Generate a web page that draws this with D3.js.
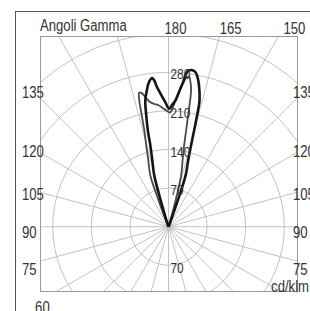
<!DOCTYPE html>
<html>
<head>
<meta charset="utf-8">
<script src="https://cdn.jsdelivr.net/npm/d3@7"></script>
<style>
  body { margin: 0; background: #fff; }
  text { font-family: "Liberation Sans", Arial, sans-serif; fill: #333; }
</style>
</head>
<body>
<div id="chart"></div>
<script>
// polar curve data: angle in degrees measured from the 180 axis (negative = left side), value in cd/klm
const blackAngles = [-21, -19, -17.5, -16.5, -15.5, -13.7, -12.6, -12.1, -11.3, -10.4, -8.8, -8, -7, -6.3, -5.5, -4.9, -3.35, -1.6, 0.3, 1.5, 3.2, 4.6, 5.8, 6.8, 8, 9.8, 11, 12.2, 13.8, 14.4, 14.9, 15.5, 16.5, 18.4, 19.5, 20.5, 22, 24]
const blackValues = [0, 5, 20, 55, 97, 124, 151, 179, 206, 233, 253, 262, 269, 271, 266, 256, 241, 227, 214, 220, 230, 247, 264, 282, 287, 285, 276, 262, 236, 209, 181, 153, 126, 99, 50, 15, 3, 0]

const grayAngles = [-26, -23, -21.5, -20.5, -19.5, -16.9, -15.3, -14.1, -13.4, -13, -12.3, -11.3, -10.2, -8.3, -6.5, -4.7, -3, -1.1, 0.85, 2.2, 3.6, 4.7, 5.8, 6.8, 7.8, 8.6, 9.4, 10, 10.9, 12, 13.8, 15, 16, 17.5, 20]
const grayValues = [0, 4, 25, 60, 99, 126, 153, 180, 215, 236, 249, 247, 239, 228, 224, 221, 216, 211, 207, 218, 233, 248, 262, 272, 275, 266, 251, 205, 150, 123, 96, 55, 25, 5, 0]

const ringValues = [70, 140, 210, 280, 350, 420]
const ringLabelsUp = [70, 140, 210, 280]
const ringLabelsDown = [70]
const gammaLeft = [135, 120, 105, 90, 75]
const gammaRight = [135, 120, 105, 90, 75]
const gammaTop = [180, 165, 150]
const gammaBottomLeft = [60]
const titleText = "Angoli Gamma"
const unitText = "cd/klm"

const W = 310, H = 311
const plot = { left: 40, right: 298, top: 36, bottom: 292 }
const cx = 168.5, cy = 226.7
const squeeze = 0.82 // narrow font look

const svg = d3.select("#chart").append("svg")
    .attr("width", W)
    .attr("height", H)

const r = d3.scaleLinear().domain([0, 70]).range([0, 38.6])
const rad = d => d * Math.PI / 180

function label(x, y, txt, anchor, size) {
    svg.append("text")
        .attr("transform", "translate(" + x + "," + y + ") scale(" + squeeze + ",1)")
        .attr("text-anchor", anchor)
        .style("font-size", size + "px")
        .text(txt)
}

// outer frame
svg.append("rect")
    .attr("x", 15.5).attr("y", 11.5)
    .attr("width", 400).attr("height", 400)
    .attr("fill", "none")
    .attr("stroke", "#555")

svg.append("clipPath").attr("id", "clip")
    .append("rect")
    .attr("x", plot.left).attr("y", plot.top)
    .attr("width", plot.right - plot.left)
    .attr("height", plot.bottom - plot.top)

const grid = svg.append("g").attr("clip-path", "url(#clip)")
const center = grid.append("g").attr("transform", "translate(" + cx + "," + cy + ")")

center.selectAll("circle")
    .data(ringValues)
    .enter()
    .append("circle")
    .attr("r", d => r(d))
    .attr("fill", "none")
    .attr("stroke", "#bbb")
    .attr("stroke-width", 0.9)

center.selectAll("line")
    .data(d3.range(0, 360, 15))
    .enter()
    .append("line")
    .attr("x1", 0).attr("y1", 0)
    .attr("x2", d => 400 * Math.sin(rad(d)))
    .attr("y2", d => -400 * Math.cos(rad(d)))
    .attr("stroke", "#bbb")
    .attr("stroke-width", 0.9)

// inner plot border
svg.append("rect")
    .attr("x", plot.left + 0.5).attr("y", plot.top + 0.5)
    .attr("width", plot.right - plot.left - 1)
    .attr("height", plot.bottom - plot.top - 1)
    .attr("fill", "none")
    .attr("stroke", "#999")

// curves
const radial = d3.lineRadial()
    .angle(d => rad(d[0]))
    .radius(d => r(d[1]))
    .curve(d3.curveCatmullRom)

const curves = [
    { pts: d3.zip(grayAngles, grayValues), color: "#4a4a4a", w: 1.8 },
    { pts: d3.zip(blackAngles, blackValues), color: "#151515", w: 2.6 }
]

svg.append("g")
    .attr("transform", "translate(" + cx + "," + cy + ")")
    .selectAll("path")
    .data(curves)
    .enter()
    .append("path")
    .attr("d", d => radial(d.pts))
    .attr("fill", "none")
    .attr("stroke", d => d.color)
    .attr("stroke-width", d => d.w)
    .attr("stroke-linejoin", "round")

// ring labels
ringLabelsUp.forEach(v => label(cx + 2, cy - r(v) + 7, v, "start", 14.5))
ringLabelsDown.forEach(v => label(cx + 2, cy + r(v) + 7.5, v, "start", 14.5))

// gamma labels on the sides
const sideY = g => {
    const lineY = cy + (cx - plot.left) / Math.tan(rad(g))
    return cy + (lineY - cy) * 1.09 + 5.6 + 5.6
}
gammaLeft.forEach(g => label(22, sideY(g), g, "start", 16))
gammaRight.forEach(g => label(293, sideY(g), g, "start", 16))

gammaTop.forEach(g => {
    const rayX = cx + (cy - plot.top) * Math.tan(rad(180 - g))
    label(cx + (rayX - cx) * 1.08 + 7, 34.3, g, "middle", 16)
})

gammaBottomLeft.forEach(g => {
    const rayX = cx - (plot.bottom - cy) * Math.tan(rad(g))
    label(rayX - 13, plot.bottom + 21, g, "middle", 16)
})

label(plot.left, 30.7, titleText, "start", 16)
label(309, 291.5, unitText, "end", 16)
</script>
</body>
</html>
